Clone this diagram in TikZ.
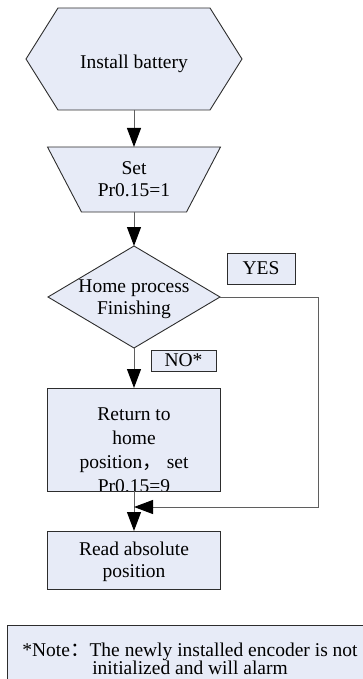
\documentclass[tikz,border=0pt]{standalone}
\usepackage{fontspec}
\setmainfont{Liberation Serif}
\newfontfamily\cjk{Noto Sans CJK SC}
\usetikzlibrary{arrows.meta,calc}
\definecolor{boxfill}{RGB}{231,235,247}
\definecolor{edgecol}{RGB}{45,45,45}
\definecolor{conncol}{RGB}{95,95,95}
\begin{document}
\begin{tikzpicture}[x=1pt,y=-1pt,
  font=\fontsize{19.5}{22}\selectfont,
  frame/.style={inner sep=0pt, outer sep=0pt},
  txt/.style={inner sep=0pt, align=center},
  shp/.style={draw=edgecol, fill=boxfill, line width=0.9pt},
  boxnode/.style={shp, inner sep=0pt, outer sep=0pt, align=center},
  conn/.style={draw=conncol, line width=1pt},
  arr/.style={conn, -{Triangle[length=19pt,width=14pt,color=black]}},
]
\useasboundingbox (0,0) rectangle (362,679);

% Install battery (hexagon)
\node[frame, minimum width=216pt, minimum height=102pt] (hex) at (134,59) {};
\draw[shp] (hex.west) -- ($(hex.north west)+(32,0)$) -- ($(hex.north east)+(-32,0)$)
  -- (hex.east) -- ($(hex.south east)+(-32,0)$) -- ($(hex.south west)+(32,0)$) -- cycle;
\node[txt] (hext) at (134,63.5) {Install battery};

% Set Pr0.15=1 (trapezoid)
\node[frame, minimum width=173pt, minimum height=65pt] (trap) at (134,179.5) {};
\draw[shp] (trap.north west) -- (trap.north east) -- ($(trap.south east)+(-34,0)$)
  -- ($(trap.south west)+(34,0)$) -- cycle;
\node[txt] (trapt) at (134,179.5) {Set\\Pr0.15=1};

% Decision (diamond)
\node[frame, minimum width=172pt, minimum height=102pt] (dia) at (134,297) {};
\draw[shp] (dia.north) -- (dia.east) -- (dia.south) -- (dia.west) -- cycle;
\node[txt] (diat) at (134,299.5) {Home process\\Finishing};

% YES / NO* labels
\node[boxnode, minimum width=68pt, minimum height=31pt] (yes) at (261,268.5) {YES};
\node[boxnode, minimum width=65pt, minimum height=21pt] (no) at (183.5,360.5) {NO*};

% Return to home position
\node[boxnode, minimum width=173pt, minimum height=103pt] (ret) at (134,439.5) {};
\begin{scope}
  \clip (ret.north west) rectangle (ret.south east);
  \node[txt, font=\fontsize{19.5}{24}\selectfont] (rett) at (134,450.5)
    {Return to\\home\\position{\cjk ，} set\\Pr0.15=9};
\end{scope}
\draw[draw=edgecol, line width=0.9pt] (ret.south west) -- (ret.south east);

% Read absolute position
\node[boxnode, minimum width=173pt, minimum height=58pt] (read) at (134,560) {};
\node[txt] (readt) at (134,561.5) {Read absolute\\position};

% Note
\node[boxnode, anchor=north west, minimum width=380pt, minimum height=80pt] (note) at (7,625) {};
\node[txt, font=\fontsize{19.5}{18}\selectfont] (notet) at (190,658.4)
  {*Note{\cjk ：}The newly installed encoder is not\\initialized and will alarm};

% Connectors
\draw[arr] (hex.south) -- (trap.north);
\draw[arr] (trap.south) -- (dia.north);
\draw[arr] (dia.south) -- (ret.north);
\draw[arr] (ret.south) -- (read.north);
\coordinate (yc) at (318,507);
\coordinate (jn) at (134,507);
\draw[arr] (dia.east) -| (yc) -- (jn);
\end{tikzpicture}
\end{document}
